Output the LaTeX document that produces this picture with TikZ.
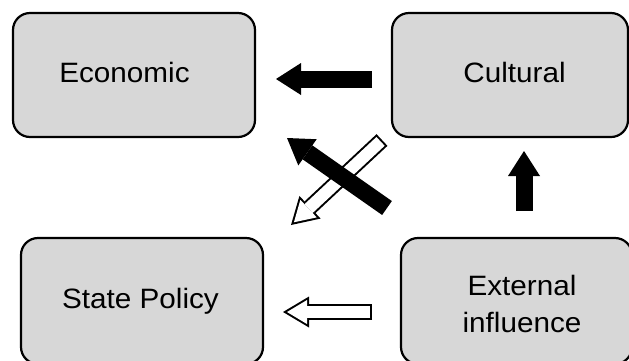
\documentclass[tikz,border=0pt]{standalone}
\usepackage{fontspec}
\setmainfont{Liberation Sans}
\newfontfamily\boxfont[FakeStretch=1.06]{Liberation Sans}
\usetikzlibrary{arrows.meta,positioning}
\definecolor{boxgray}{HTML}{D7D7D7}

\begin{document}
\begin{tikzpicture}[x=1pt,y=-1pt,
  box/.style={draw,line width=2.2pt,fill=boxgray,rounded corners=17pt,inner sep=0pt},
  lbl/.style={font=\boxfont\fontsize{28}{37}\selectfont,align=center,inner sep=0pt},
  solid arrow/.style={line width=17pt,-{Triangle[width=32pt,length=25pt,line width=0pt]}},
  hollow arrow/.style={preaction={draw=black,line width=16pt,shorten <=0pt,shorten >=0pt,
      -{Triangle[width=31pt,length=26pt,line width=0pt]}},
    draw=white,line width=12pt,shorten <=2pt,shorten >=4pt,
    -{Triangle[width=24pt,length=20pt,line width=0pt]}}]
  \clip (0,0) rectangle (629,360);
  % the four boxes
  \node[box,minimum width=242pt,minimum height=124pt] (econ) at (134,75) {};
  \node[box,minimum width=236pt,minimum height=124pt] (cult) at (510,75) {};
  \node[box,minimum width=242pt,minimum height=126pt] (state) at (142,301) {};
  \node[box,minimum width=231pt,minimum height=126pt] (ext) at (516.5,301) {};
  \node[lbl,anchor=base] (econ-t) at (124.5,82) {Economic};
  \node[lbl,anchor=base] (cult-t) at (514.5,82) {Cultural};
  \node[lbl,anchor=base] (state-t) at (140.5,308) {State Policy};
  \node[lbl,anchor=north] (ext-t) at (522,275) {External\\influence};
  % arrow ends
  \coordinate (c-tail) at (372,79);
  \coordinate (e-tip) at (276,79);
  \coordinate (x-tail) at (524,211);
  \coordinate (c-tip) at (524,151);
  \coordinate (s-tail) at (372,312);
  \coordinate (s-tip) at (283,312);
  \coordinate (d-tail) at (387,208);
  \coordinate (d-tip) at (287,138);
  \coordinate (w-tail) at (382,140);
  \coordinate (w-tip) at (291,225);
  \draw[hollow arrow] (w-tail) -- (w-tip);
  \draw[solid arrow] (d-tail) -- (d-tip);
  \draw[solid arrow] (c-tail) -- (e-tip);
  \draw[solid arrow] (x-tail) -- (c-tip);
  \draw[hollow arrow] (s-tail) -- (s-tip);
\end{tikzpicture}
\end{document}
